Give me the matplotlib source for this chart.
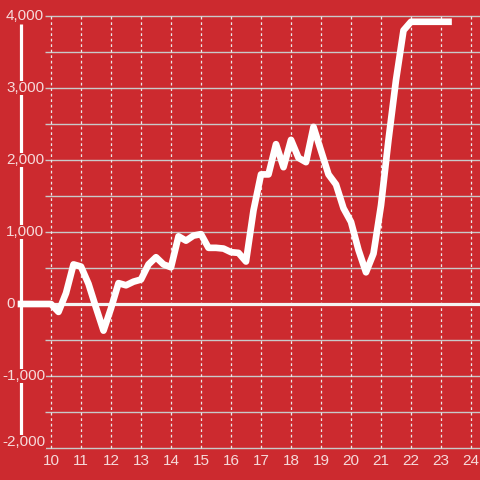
import matplotlib
matplotlib.use("Agg")
import matplotlib.pyplot as plt
import matplotlib.transforms as mtransforms

plt.rcParams['font.family'] = ['Liberation Sans', 'DejaVu Sans']

# ---- data ----
x_start = 9.0
x_step = 0.25
values = [0, 0, 0, 0,
          0, -110, 150, 550, 520, 280, -50, -370, -60, 290,
          260, 310, 340, 550, 650, 550, 510, 940, 880, 950,
          970, 780, 780, 770, 720, 710, 590, 1300, 1800, 1800,
          2220, 1900, 2280, 2030, 1970, 2460, 2130, 1800, 1660, 1330,
          1140, 750, 440, 700, 1370, 2280, 3110, 3800, 3920, 3920,
          3920, 3920, 3920, 3920]
x_vals = [x_start + i * x_step for i in range(len(values))]

xticks = list(range(10, 25))
xtick_labels = [str(v) for v in xticks]
yticks = [-2000, -1000, 0, 1000, 2000, 3000, 4000]
ytick_labels = ["-2,000", "-1,000", "0", "1,000", "2,000", "3,000", "4,000"]
yminor = [-1500, -500, 500, 1500, 2500, 3500]

BG = '#CC2A2F'
LABEL = '#F6DADA'

W = H = 480
fig = plt.figure(figsize=(4.8, 4.8), dpi=100, facecolor=BG)
ax = fig.add_axes([45 / W, 32 / H, 435 / W, 432 / H])
ax.set_facecolor(BG)
ax.set_xlim(9.8, 24.3)
ax.set_ylim(-2000, 4000)
for s in ax.spines.values():
    s.set_visible(False)
ax.set_xticks([])
ax.set_yticks([])

# horizontal grid lines
for yv in yticks + yminor:
    if yv == 0:
        continue
    ax.plot([9.8, 24.3], [yv, yv], color='#C9C9C9', lw=1.0, zorder=1,
            clip_on=False, solid_capstyle='butt')
# vertical dashed grid lines
for xv in xticks:
    ax.plot([xv, xv], [-2000, 4000], color='#EAEAEA', lw=0.9,
            linestyle=(0, (2.2, 2.2)), zorder=1, clip_on=False)

# left axis line
ax.plot([9.0, 9.0], [3889, -1847], color='white', lw=2.3, zorder=1,
        clip_on=False, solid_capstyle='butt')
# zero line
ax.plot([9.0, 24.3], [0, 0], color='#F4F4F4', lw=2.3, zorder=2,
        clip_on=False, solid_capstyle='butt')

# data line
ax.plot(x_vals, values, color='white', lw=4.8, zorder=4, clip_on=False,
        solid_capstyle='projecting', solid_joinstyle='round')

# y tick labels (left of the plot, drawn over the axis line)
ylab_trans = mtransforms.blended_transform_factory(fig.transFigure, ax.transData)
for yv, lab in zip(yticks, ytick_labels):
    xpx = 6 if not lab.startswith('-') else 2
    tr = ylab_trans
    if yv == yticks[0]:
        tr = ylab_trans + mtransforms.ScaledTranslation(0, 6 / 100, fig.dpi_scale_trans)
    ax.text(xpx / W, yv, lab, transform=tr,
            ha='left', va='center', fontsize=11, color=LABEL, zorder=3,
            clip_on=False,
            bbox=dict(facecolor=BG, edgecolor='none', pad=0.3))

# x tick labels
xlab_trans = ax.transData + mtransforms.ScaledTranslation(0, -6 / 100, fig.dpi_scale_trans)
for xv, lab in zip(xticks, xtick_labels):
    ax.text(xv, -2000, lab, transform=xlab_trans, ha='center', va='top',
            fontsize=11, color=LABEL, clip_on=False)

fig.savefig('out.png', dpi=100, facecolor=BG)
